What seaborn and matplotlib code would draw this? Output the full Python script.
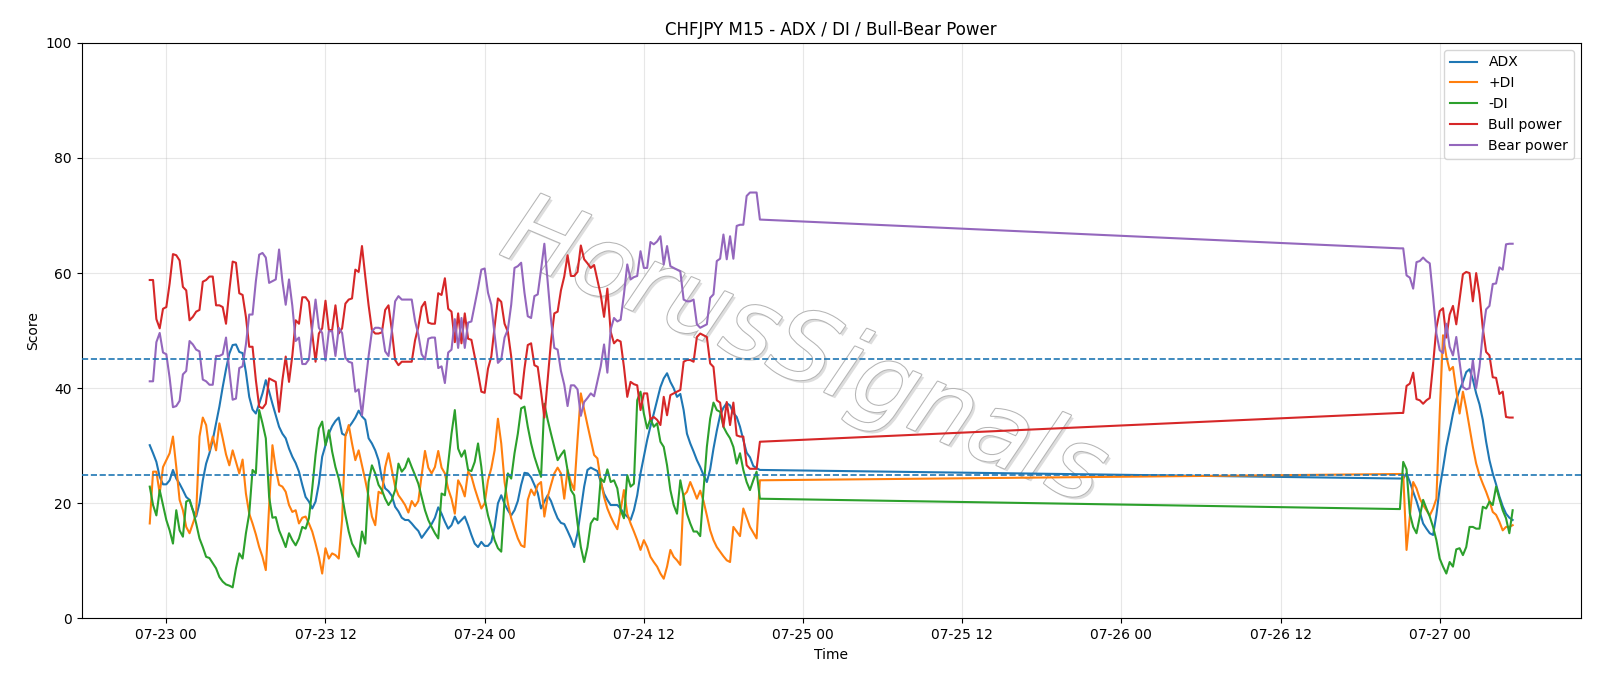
import matplotlib
matplotlib.use("Agg")
import matplotlib.pyplot as plt
import matplotlib.dates as mdates
import matplotlib.patheffects as pe
import pandas as pd
import seaborn as sns

# ---- time axis: two M15 sessions (weekend gap between) ----
seg1_start = "2020-07-22 22:45"
seg1_len = 185
seg2_start = "2020-07-26 21:00"
seg2_len = 35

# ---- series values ----
adx_1 = [30.1, 28.7, 27.2, 24.6, 23.3, 23.3, 24.0, 25.8, 24.3, 23.4,
         22.3, 21.1, 20.6, 18.8, 17.7, 20.0, 24.0, 26.9, 28.7, 31.0,
         33.9, 36.8, 40.2, 43.3, 46.0, 47.5, 47.6, 46.3, 46.1, 42.8,
         38.5, 36.3, 35.6, 37.3, 39.1, 41.4, 39.4, 37.3, 35.3, 33.3,
         32.1, 31.3, 29.5, 28.1, 27.0, 25.5, 23.2, 21.1, 20.3, 19.1,
         20.3, 23.4, 28.1, 30.1, 32.1, 33.4, 34.3, 34.9, 32.1, 31.8,
         33.2, 34.0, 34.9, 36.1, 35.1, 34.5, 31.3, 30.4, 29.2, 27.5,
         24.3, 22.6, 22.1, 21.3, 19.4, 18.6, 17.5, 17.1, 17.1, 16.5,
         15.8, 15.2, 14.0, 14.8, 15.6, 16.4, 17.5, 19.3, 18.2, 16.8,
         15.6, 16.2, 17.7, 16.5, 17.1, 17.7, 16.2, 14.5, 13.0, 12.4,
         13.3, 12.6, 12.6, 13.3, 15.9, 20.0, 21.4, 19.9, 18.8, 17.9,
         18.8, 20.4, 23.2, 25.3, 25.2, 24.5, 23.2, 21.8, 19.1, 20.3,
         21.4, 20.4, 18.8, 17.4, 16.6, 16.4, 15.2, 13.9, 12.4, 14.8,
         18.8, 22.9, 25.8, 26.2, 25.9, 25.6, 23.7, 21.7, 20.6, 19.7,
         19.7, 19.7, 19.1, 18.2, 17.7, 17.1, 18.8, 21.4, 25.2, 28.1,
         31.0, 33.4, 35.6, 37.9, 40.2, 41.7, 42.6, 41.1, 40.0, 38.5,
         39.0, 36.2, 32.1, 30.4, 29.0, 27.5, 26.3, 24.9, 23.7, 25.9,
         29.5, 32.6, 35.3, 36.6, 37.4, 37.0, 35.7, 35.0, 33.3, 31.0,
         28.8, 28.0, 26.5, 26.1, 25.8]
adx_2 = [24.3, 24.3, 25.2, 23.7, 22.0, 20.4, 18.5, 16.5, 15.6, 14.8,
         14.5, 18.0, 22.6, 26.1, 29.8, 32.6, 35.6, 38.0, 39.7, 41.1,
         42.8, 43.3, 41.5, 39.1, 37.2, 34.5, 30.7, 27.5, 25.2, 23.3,
         21.2, 19.5, 18.2, 17.5, 17.1]

pdi_1 = [16.5, 25.5, 25.5, 21.7, 26.3, 27.5, 28.7, 31.6, 26.3, 20.6,
         18.8, 15.9, 14.8, 16.5, 18.2, 31.6, 34.9, 33.6, 29.2, 31.6,
         29.2, 33.9, 31.3, 28.5, 26.6, 29.2, 27.2, 25.2, 27.6, 21.7,
         18.2, 16.5, 14.6, 12.4, 10.7, 8.4, 19.5, 30.1, 26.0, 23.2,
         22.9, 22.0, 19.7, 18.5, 18.8, 16.5, 17.5, 17.7, 16.5, 15.1,
         13.0, 10.7, 7.8, 12.2, 10.4, 11.3, 11.0, 10.4, 17.1, 31.6,
         33.6, 30.4, 27.5, 29.2, 26.6, 24.0, 21.1, 17.7, 16.2, 22.0,
         21.7, 26.3, 28.7, 25.8, 22.9, 21.4, 20.6, 19.7, 18.4, 20.4,
         19.5, 20.4, 24.9, 29.1, 26.2, 25.2, 26.3, 29.1, 26.2, 25.2,
         22.5, 20.8, 18.2, 24.0, 22.9, 21.2, 25.5, 24.7, 22.6, 20.8,
         19.1, 20.0, 24.0, 26.1, 29.2, 34.7, 30.4, 23.7, 20.0, 17.4,
         15.6, 13.9, 12.7, 12.4, 20.6, 22.4, 21.4, 23.2, 23.7, 17.7,
         21.1, 23.2, 25.2, 26.2, 25.2, 20.8, 25.8, 23.7, 22.3, 31.0,
         39.1, 36.3, 33.6, 31.0, 28.4, 27.8, 24.0, 21.1, 19.1, 17.7,
         16.5, 15.5, 18.8, 22.3, 18.2, 16.5, 15.1, 13.6, 11.9, 13.6,
         12.4, 10.7, 9.8, 9.0, 7.8, 6.9, 9.0, 11.9, 10.7, 10.1,
         9.3, 21.4, 22.0, 23.7, 22.3, 20.8, 22.2, 20.4, 17.9, 15.3,
         13.6, 12.4, 11.6, 10.8, 10.1, 9.8, 15.9, 15.1, 14.3, 19.1,
         17.5, 15.9, 14.9, 13.9, 24.0]
pdi_2 = [25.1, 25.1, 11.9, 17.7, 23.7, 22.6, 20.8, 19.7, 18.8, 17.9,
         19.1, 20.8, 35.6, 49.2, 45.5, 43.1, 43.7, 39.7, 35.6, 39.4,
         36.5, 33.2, 29.8, 26.9, 24.9, 23.4, 22.0, 20.4, 18.5, 18.0,
         16.8, 15.3, 15.9, 15.9, 16.2]

mdi_1 = [22.9, 19.7, 17.9, 22.3, 19.7, 17.1, 15.3, 13.0, 18.8, 15.3,
         14.2, 20.3, 20.6, 18.8, 16.5, 13.9, 12.4, 10.7, 10.5, 9.6,
         8.7, 7.2, 6.4, 5.9, 5.7, 5.4, 8.7, 11.3, 10.4, 14.8,
         18.2, 25.8, 25.2, 36.2, 33.9, 31.3, 21.1, 17.5, 17.6, 15.3,
         13.9, 12.4, 14.8, 13.6, 12.7, 13.9, 15.9, 15.6, 17.4, 22.6,
         28.4, 33.0, 34.2, 30.1, 32.7, 29.0, 26.3, 24.3, 21.4, 18.0,
         15.1, 13.0, 12.0, 10.7, 15.1, 13.0, 23.7, 26.6, 25.2, 23.2,
         22.3, 20.8, 19.7, 20.6, 22.3, 26.9, 25.5, 26.2, 27.8, 26.3,
         24.9, 23.4, 21.1, 18.8, 17.1, 15.9, 14.8, 13.9, 21.7, 21.4,
         26.9, 32.1, 36.2, 29.5, 28.1, 29.2, 25.8, 25.6, 27.2, 30.4,
         26.3, 20.8, 17.9, 15.9, 13.6, 12.2, 11.6, 20.6, 25.2, 24.3,
         28.7, 32.1, 36.5, 36.8, 33.3, 30.4, 28.1, 26.3, 24.6, 37.3,
         34.5, 32.1, 29.8, 27.5, 28.4, 29.2, 25.8, 22.3, 21.4, 16.5,
         12.4, 9.8, 12.4, 16.5, 17.4, 17.1, 24.3, 23.7, 25.9, 23.7,
         24.0, 22.6, 18.8, 17.4, 24.9, 22.9, 23.4, 37.9, 39.4, 35.6,
         33.0, 34.7, 33.3, 33.9, 30.7, 29.8, 26.6, 22.3, 19.7, 18.2,
         24.0, 21.1, 18.2, 16.5, 15.1, 15.1, 14.3, 22.3, 29.8, 34.7,
         37.5, 36.2, 35.9, 33.3, 32.2, 31.3, 29.8, 26.9, 28.7, 25.8,
         23.7, 22.3, 24.0, 25.5, 20.8]
mdi_2 = [19.0, 27.2, 25.9, 18.2, 15.9, 14.8, 17.7, 20.6, 19.1, 17.7,
         15.9, 13.6, 10.4, 9.0, 7.8, 9.8, 9.0, 12.0, 12.2, 11.0,
         12.4, 15.9, 15.9, 15.6, 15.6, 19.4, 19.1, 20.3, 19.7, 22.9,
         20.8, 18.8, 17.4, 14.8, 18.8]

bull_1 = [58.8, 58.8, 52.0, 50.4, 53.8, 54.1, 58.2, 63.3, 63.1, 62.2,
          57.6, 57.0, 51.8, 52.4, 53.3, 53.6, 58.5, 58.8, 59.4, 59.4,
          54.4, 54.4, 54.1, 51.2, 57.0, 62.0, 61.8, 56.5, 56.2, 52.4,
          47.2, 47.2, 41.4, 36.8, 36.5, 37.3, 41.7, 41.4, 41.1, 35.9,
          41.4, 45.5, 41.1, 45.7, 51.8, 51.2, 55.8, 55.8, 55.0, 49.5,
          44.6, 49.5, 50.4, 55.2, 50.1, 50.1, 54.4, 49.5, 50.4, 54.7,
          55.4, 55.6, 60.6, 60.2, 64.7, 59.4, 54.4, 50.1, 49.5, 49.5,
          49.7, 53.6, 54.4, 50.1, 44.9, 44.0, 44.6, 44.6, 44.6, 44.6,
          48.3, 50.7, 54.1, 55.0, 51.4, 51.2, 51.2, 56.5, 56.2, 59.1,
          53.8, 53.3, 48.0, 53.0, 47.8, 53.0, 48.6, 48.4, 45.5, 42.6,
          39.4, 39.2, 43.4, 45.5, 50.7, 55.6, 55.0, 51.2, 49.8, 45.5,
          39.1, 38.8, 38.2, 43.4, 47.5, 47.8, 44.0, 43.7, 39.4, 34.9,
          41.4, 48.1, 53.0, 53.3, 57.0, 59.4, 63.1, 59.5, 59.5, 60.2,
          64.8, 62.4, 61.7, 60.9, 61.4, 58.8, 56.2, 52.4, 57.3, 49.8,
          47.8, 48.4, 48.1, 43.7, 38.5, 41.1, 40.7, 40.5, 36.2, 39.1,
          39.1, 34.6, 35.0, 34.5, 33.6, 38.5, 35.3, 38.8, 39.1, 39.4,
          39.7, 44.6, 44.9, 44.9, 44.6, 48.9, 49.5, 49.2, 48.9, 44.3,
          43.7, 37.9, 37.5, 33.3, 37.6, 33.6, 37.5, 31.8, 31.6, 31.6,
          26.6, 26.0, 26.0, 26.0, 30.7]
bull_2 = [35.7, 35.7, 40.4, 40.8, 42.7, 38.1, 37.9, 37.3, 37.9, 38.3,
          44.1, 50.5, 53.4, 53.9, 48.8, 52.8, 54.3, 51.1, 55.4, 59.8,
          60.2, 60.0, 55.1, 60.0, 56.3, 50.4, 46.3, 45.7, 41.9, 41.8,
          39.0, 39.4, 35.0, 34.9, 34.9]

bear_1 = [41.2, 41.2, 48.0, 49.6, 46.2, 45.9, 41.8, 36.7, 36.9, 37.8,
          42.4, 43.0, 48.2, 47.6, 46.7, 46.4, 41.5, 41.2, 40.6, 40.6,
          45.6, 45.6, 45.9, 48.8, 43.0, 38.0, 38.2, 43.5, 43.8, 47.6,
          52.8, 52.8, 58.6, 63.2, 63.5, 62.7, 58.3, 58.6, 58.9, 64.1,
          58.6, 54.5, 58.9, 54.3, 48.2, 48.8, 44.2, 44.2, 45.0, 50.5,
          55.4, 50.5, 49.6, 44.8, 49.9, 49.9, 45.6, 50.5, 49.6, 45.3,
          44.6, 44.4, 39.4, 39.8, 35.3, 40.6, 45.6, 49.9, 50.5, 50.5,
          50.3, 46.4, 45.6, 49.9, 55.1, 56.0, 55.4, 55.4, 55.4, 55.4,
          51.7, 49.3, 45.9, 45.0, 48.6, 48.8, 48.8, 43.5, 43.8, 40.9,
          46.2, 46.7, 52.0, 47.0, 52.2, 47.0, 51.4, 51.6, 54.5, 57.4,
          60.6, 60.8, 56.6, 54.5, 49.3, 44.4, 45.0, 48.8, 50.2, 54.5,
          60.9, 61.2, 61.8, 56.6, 52.5, 52.2, 56.0, 56.3, 60.6, 65.1,
          58.6, 51.9, 47.0, 46.7, 43.0, 40.6, 36.9, 40.5, 40.5, 39.8,
          35.2, 37.6, 38.3, 39.1, 38.6, 41.2, 43.8, 47.6, 42.7, 50.2,
          52.2, 51.6, 51.9, 56.3, 61.5, 58.9, 59.3, 59.5, 63.8, 60.9,
          60.9, 65.4, 65.0, 65.5, 66.4, 61.5, 64.7, 61.2, 60.9, 60.6,
          60.3, 55.4, 55.1, 55.1, 55.4, 51.1, 50.5, 50.8, 51.1, 55.7,
          56.3, 62.1, 62.5, 66.7, 62.4, 66.4, 62.5, 68.2, 68.4, 68.4,
          73.4, 74.0, 74.0, 74.0, 69.3]
bear_2 = [64.3, 64.3, 59.6, 59.2, 57.3, 61.9, 62.1, 62.7, 62.1, 61.7,
          55.9, 49.5, 46.6, 46.1, 51.2, 47.2, 45.7, 48.9, 44.6, 40.2,
          39.8, 40.0, 44.9, 40.0, 43.7, 49.6, 53.7, 54.3, 58.1, 58.2,
          61.0, 60.6, 65.0, 65.1, 65.1]

series_names = ["ADX", "+DI", "-DI", "Bull power", "Bear power"]
series_colors = ["#1f77b4", "#ff7f0e", "#2ca02c", "#d62728", "#9467bd"]
threshold_levels = [25, 45]

times = pd.date_range(seg1_start, periods=seg1_len, freq="15min").append(
    pd.date_range(seg2_start, periods=seg2_len, freq="15min"))
df = pd.DataFrame({
    "time": times,
    "ADX": adx_1 + adx_2,
    "+DI": pdi_1 + pdi_2,
    "-DI": mdi_1 + mdi_2,
    "Bull power": bull_1 + bull_2,
    "Bear power": bear_1 + bear_2,
})

fig, ax = plt.subplots(figsize=(16, 6.86), dpi=100)
for name, col in zip(series_names, series_colors):
    sns.lineplot(data=df, x="time", y=name, ax=ax, color=col, label=name,
                 linewidth=1.5, zorder=3)

for lvl in threshold_levels:
    ax.axhline(lvl, color="#1f77b4", linestyle="--", linewidth=1.2, zorder=3)

ax.set_ylim(0, 100)
ax.xaxis.set_major_locator(mdates.HourLocator(byhour=[0, 12]))
ax.xaxis.set_major_formatter(mdates.DateFormatter("%m-%d %H"))
ax.grid(True, alpha=0.3)
ax.set_title("CHFJPY M15 - ADX / DI / Bull-Bear Power")
ax.set_xlabel("Time")
ax.set_ylabel("Score")
ax.legend(loc="upper right")

ax.text(0.482, 0.46, "HorusSignals", transform=ax.transAxes,
        fontsize=71, rotation=-23, style="italic", fontweight="light",
        ha="center", va="center", color="white", zorder=2,
        path_effects=[pe.withSimplePatchShadow(offset=(2, -2),
                                               shadow_rgbFace="#d5d5d5",
                                               alpha=0.8),
                      pe.withStroke(linewidth=1.5, foreground="#b5b5b5")])

fig.subplots_adjust(left=0.051, right=0.988, top=0.9375, bottom=0.0985)
fig.savefig("out.png", dpi=100)
